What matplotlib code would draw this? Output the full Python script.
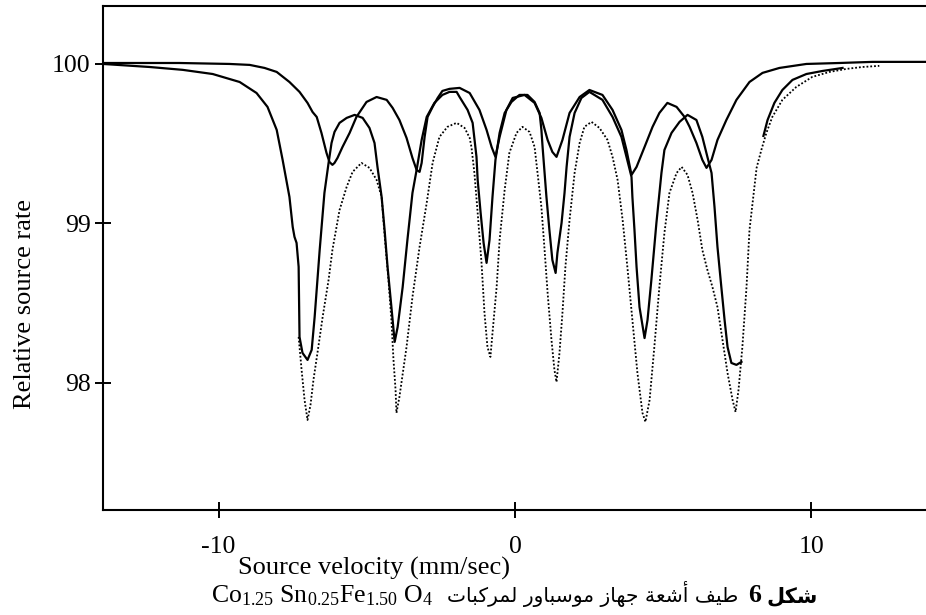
import matplotlib
matplotlib.use("Agg")
import matplotlib.pyplot as plt

plt.rcParams['font.family'] = ['Liberation Serif', 'DejaVu Sans']
plt.rcParams['mathtext.fontset'] = 'custom'
plt.rcParams['mathtext.rm'] = 'Liberation Serif'
plt.rcParams['mathtext.it'] = 'Liberation Serif:italic'
plt.rcParams['mathtext.bf'] = 'Liberation Serif:bold'
plt.rcParams['axes.unicode_minus'] = False

# ---------------- data ----------------
# solid curve A (deep sextet)
velocity_a = [-13.9, -12.33, -11.21, -10.20, -9.29, -8.72, -8.35, -8.04, -7.84, -7.61,
              -7.50, -7.44, -7.37, -7.30, -7.27, -7.17, -7.00, -6.86, -6.76, -6.59,
              -6.43, -6.29, -6.19, -6.09, -5.92, -5.68, -5.41, -5.14, -4.91, -4.74,
              -4.64, -4.50, -4.40, -4.30, -4.17, -4.06, -3.96, -3.79, -3.63, -3.46,
              -3.32, -3.15, -2.98, -2.72, -2.45, -2.21, -1.97, -1.87, -1.60, -1.43,
              -1.30, -1.26, -1.16, -1.06, -0.96, -0.86, -0.76, -0.66, -0.52, -0.35,
              -0.12, 0.15, 0.42, 0.66, 0.83, 0.89, 0.93, 1.06, 1.16, 1.26,
              1.37, 1.43, 1.57, 1.67, 1.74, 1.84, 2.01, 2.24, 2.51, 2.95,
              3.29, 3.59, 3.76, 3.93, 3.96, 4.03, 4.10, 4.20, 4.37, 4.47,
              4.60, 4.77, 4.94, 5.04, 5.28, 5.55, 5.82, 6.12, 6.32, 6.49,
              6.63, 6.73, 6.83, 6.96, 7.07, 7.17, 7.30, 7.47, 7.64]
rate_a = [99.998, 99.979, 99.961, 99.935, 99.885, 99.816, 99.729, 99.585, 99.397, 99.165,
          98.977, 98.915, 98.877, 98.727, 98.288, 98.188, 98.144, 98.207, 98.413, 98.833,
          99.190, 99.378, 99.503, 99.572, 99.629, 99.660, 99.679, 99.660, 99.597, 99.503,
          99.353, 99.165, 98.958, 98.727, 98.475, 98.257, 98.350, 98.601, 98.896, 99.190,
          99.334, 99.522, 99.666, 99.754, 99.804, 99.823, 99.823, 99.791, 99.710, 99.629,
          99.416, 99.272, 99.065, 98.877, 98.752, 98.896, 99.165, 99.397, 99.566, 99.691,
          99.760, 99.804, 99.804, 99.760, 99.691, 99.585, 99.478, 99.165, 98.958, 98.770,
          98.689, 98.814, 99.002, 99.190, 99.353, 99.541, 99.691, 99.785, 99.823, 99.773,
          99.666, 99.541, 99.416, 99.290, 99.165, 98.958, 98.727, 98.475, 98.281, 98.394,
          98.645, 99.002, 99.315, 99.459, 99.566, 99.635, 99.679, 99.647, 99.541, 99.416,
          99.315, 99.102, 98.852, 98.601, 98.394, 98.225, 98.125, 98.113, 98.132]
# right wing of curve A
velocity_a_tail = [8.38, 8.52, 8.75, 9.02, 9.36, 9.83, 10.37, 11.05]
rate_a_tail = [99.547, 99.647, 99.754, 99.835, 99.898, 99.935, 99.954, 99.973]

# solid curve B (shallow sextet)
velocity_b = [-13.9, -11.32, -9.63, -8.95, -8.45, -8.04, -7.61, -7.27, -7.00, -6.83,
              -6.69, -6.53, -6.36, -6.26, -6.16, -6.09, -5.99, -5.82, -5.58, -5.35,
              -5.01, -4.67, -4.33, -4.13, -3.90, -3.66, -3.46, -3.32, -3.22, -3.15,
              -3.05, -2.95, -2.78, -2.61, -2.45, -2.21, -1.87, -1.53, -1.20, -0.96,
              -0.79, -0.66, -0.52, -0.29, -0.08, 0.32, 0.66, 0.89, 1.10, 1.26,
              1.40, 1.60, 1.84, 2.18, 2.51, 2.95, 3.29, 3.59, 3.76, 3.93,
              4.10, 4.37, 4.64, 4.87, 5.14, 5.45, 5.72, 5.89, 6.12, 6.32,
              6.46, 6.63, 6.83, 7.13, 7.47, 7.91, 8.35, 8.92, 9.83, 10.94,
              12.06, 13.9]
rate_b = [100.004, 100.004, 99.998, 99.992, 99.973, 99.948, 99.885, 99.823, 99.754, 99.697,
          99.666, 99.566, 99.441, 99.384, 99.366, 99.378, 99.409, 99.478, 99.566, 99.666,
          99.760, 99.791, 99.773, 99.723, 99.647, 99.535, 99.409, 99.334, 99.322, 99.378,
          99.541, 99.666, 99.729, 99.785, 99.829, 99.842, 99.848, 99.816, 99.710, 99.585,
          99.478, 99.416, 99.541, 99.710, 99.785, 99.804, 99.754, 99.660, 99.522, 99.447,
          99.416, 99.522, 99.691, 99.791, 99.835, 99.804, 99.710, 99.585, 99.459, 99.303,
          99.353, 99.478, 99.604, 99.691, 99.754, 99.729, 99.666, 99.604, 99.503, 99.397,
          99.347, 99.397, 99.522, 99.647, 99.773, 99.885, 99.942, 99.973, 99.998, 100.004,
          100.011, 100.011]

# dotted curve (sum)
velocity_d = [-7.30, -7.20, -7.10, -7.00, -6.90, -6.80, -6.66, -6.49, -6.29, -6.16,
              -5.92, -5.68, -5.48, -5.18, -4.91, -4.67, -4.50, -4.40, -4.27, -4.17,
              -4.10, -4.03, -4.00, -3.90, -3.66, -3.46, -3.22, -2.98, -2.78, -2.55,
              -2.28, -1.97, -1.70, -1.53, -1.47, -1.37, -1.26, -1.13, -1.03, -0.93,
              -0.83, -0.76, -0.62, -0.52, -0.35, -0.19, 0.05, 0.25, 0.49, 0.66,
              0.76, 0.89, 0.99, 1.10, 1.23, 1.33, 1.40, 1.50, 1.60, 1.70,
              1.84, 2.01, 2.18, 2.34, 2.58, 2.85, 3.12, 3.29, 3.46, 3.63,
              3.79, 3.96, 4.13, 4.30, 4.40, 4.54, 4.70, 4.87, 5.04, 5.21,
              5.45, 5.62, 5.82, 5.99, 6.16, 6.32, 6.49, 6.66, 6.83, 7.00,
              7.17, 7.34, 7.44, 7.54, 7.67, 7.81, 7.91, 8.15, 8.31, 8.48,
              8.68, 9.02, 9.49, 10.03, 10.61, 11.18, 11.72, 12.29]
rate_d = [98.288, 98.081, 97.893, 97.768, 97.862, 98.019, 98.194, 98.413, 98.645, 98.833,
          99.083, 99.228, 99.322, 99.378, 99.347, 99.272, 99.165, 98.927, 98.645, 98.394,
          98.144, 97.956, 97.812, 97.912, 98.225, 98.538, 98.852, 99.127, 99.378, 99.541,
          99.604, 99.629, 99.597, 99.535, 99.478, 99.315, 99.065, 98.752, 98.438, 98.225,
          98.163, 98.312, 98.601, 98.896, 99.209, 99.441, 99.566, 99.604, 99.572, 99.478,
          99.315, 99.102, 98.852, 98.563, 98.269, 98.081, 98.006, 98.188, 98.438, 98.727,
          99.021, 99.315, 99.503, 99.604, 99.635, 99.597, 99.522, 99.416, 99.272, 99.021,
          98.727, 98.394, 98.062, 97.812, 97.756, 97.893, 98.225, 98.601, 98.939, 99.190,
          99.315, 99.353, 99.303, 99.190, 99.021, 98.833, 98.708, 98.601, 98.475, 98.269,
          98.062, 97.893, 97.818, 97.956, 98.225, 98.601, 98.958, 99.347, 99.459, 99.566,
          99.666, 99.773, 99.854, 99.917, 99.948, 99.967, 99.979, 99.986]

x_ticks = [-10, 0, 10]
x_tick_labels = ['-10', '0', '10']
y_ticks = [98, 99, 100]
y_tick_labels = ['98', '99', '100']

x_label = 'Source velocity (mm/sec)'
y_label = 'Relative source rate'
caption_formula = r'$\mathrm{Co}_{1.25}\ \mathrm{Sn}_{0.25}\mathrm{Fe}_{1.50}\ \mathrm{O}_{4}$'
caption_arabic = 'طيف أشعة جهاز موسباور لمركبات'
caption_figure_word = 'شكل'
caption_figure_number = '6'

# ---------------- minimal Arabic shaping (contextual forms, visual order) ----------------
FORMS = {
    '\u0627': ('\uFE8D', '\uFE8E', None, None),
    '\u0623': ('\uFE83', '\uFE84', None, None),
    '\u0628': ('\uFE8F', '\uFE90', '\uFE91', '\uFE92'),
    '\u0629': ('\uFE93', '\uFE94', None, None),
    '\u062A': ('\uFE95', '\uFE96', '\uFE97', '\uFE98'),
    '\u062C': ('\uFE9D', '\uFE9E', '\uFE9F', '\uFEA0'),
    '\u0631': ('\uFEAD', '\uFEAE', None, None),
    '\u0632': ('\uFEAF', '\uFEB0', None, None),
    '\u0633': ('\uFEB1', '\uFEB2', '\uFEB3', '\uFEB4'),
    '\u0634': ('\uFEB5', '\uFEB6', '\uFEB7', '\uFEB8'),
    '\u0637': ('\uFEC1', '\uFEC2', '\uFEC3', '\uFEC4'),
    '\u0639': ('\uFEC9', '\uFECA', '\uFECB', '\uFECC'),
    '\u0641': ('\uFED1', '\uFED2', '\uFED3', '\uFED4'),
    '\u0643': ('\uFED9', '\uFEDA', '\uFEDB', '\uFEDC'),
    '\u0644': ('\uFEDD', '\uFEDE', '\uFEDF', '\uFEE0'),
    '\u0645': ('\uFEE1', '\uFEE2', '\uFEE3', '\uFEE4'),
    '\u0647': ('\uFEE9', '\uFEEA', '\uFEEB', '\uFEEC'),
    '\u0648': ('\uFEED', '\uFEEE', None, None),
    '\u064A': ('\uFEF1', '\uFEF2', '\uFEF3', '\uFEF4'),
}


def shape_arabic(s):
    out = []
    n = len(s)
    for i, c in enumerate(s):
        f = FORMS.get(c)
        if f is None:
            out.append(c)
            continue
        prev = s[i - 1] if i > 0 else None
        nxt = s[i + 1] if i < n - 1 else None
        join_prev = prev in FORMS and FORMS[prev][2] is not None
        join_next = f[2] is not None and nxt in FORMS
        if join_prev and join_next:
            out.append(f[3])
        elif join_prev:
            out.append(f[1])
        elif join_next:
            out.append(f[2])
        else:
            out.append(f[0])
    return ''.join(reversed(out))


# ---------------- figure ----------------
W, H = 926, 615
fig = plt.figure(figsize=(W / 100, H / 100), dpi=100)
ax = fig.add_axes([103 / W, 105 / H, 827 / W, 504 / H])

ax.plot(velocity_b, rate_b, color='black', lw=1.6, solid_joinstyle='round')
ax.plot(velocity_a, rate_a, color='black', lw=1.6, solid_joinstyle='round')
ax.plot(velocity_a_tail, rate_a_tail, color='black', lw=1.6, solid_joinstyle='round')
ax.plot(velocity_d, rate_d, color='black', lw=1.3, linestyle=(0, (1, 1.1)))

ax.set_xlim(-13.9, 14.0)
ax.set_ylim(97.204, 100.361)

ax.set_xticks(x_ticks)
ax.set_xticklabels(x_tick_labels)
ax.set_yticks(y_ticks)
ax.set_yticklabels(y_tick_labels)
ax.tick_params(direction='inout', length=12, width=1.4, labelsize=18.5, color='black')
ax.tick_params(axis='x', pad=13)
ax.tick_params(axis='y', pad=3)

for side in ('left', 'bottom', 'top'):
    ax.spines[side].set_linewidth(1.5)
ax.spines['right'].set_visible(False)

fig.text(374 / W, 1 - 575 / H, x_label, ha='center', va='baseline', fontsize=19)
fig.text(25 / W, 1 - 304 / H, y_label, ha='center', va='center', rotation=90, fontsize=19)

base_y = 1 - 602 / H
fig.text(211 / W, base_y, caption_formula, ha='left', va='baseline', fontsize=18.5)
fig.text(738 / W, base_y, shape_arabic(caption_arabic), ha='right', va='baseline',
         family=['DejaVu Sans'], fontsize=14.6)
fig.text(761 / W, base_y, caption_figure_number, ha='right', va='baseline',
         fontsize=18.5, fontweight='bold')
fig.text(818 / W, base_y, shape_arabic(caption_figure_word), ha='right', va='baseline',
         family=['DejaVu Sans'], fontsize=15, fontweight='bold')

fig.savefig('out.png', dpi=100)
